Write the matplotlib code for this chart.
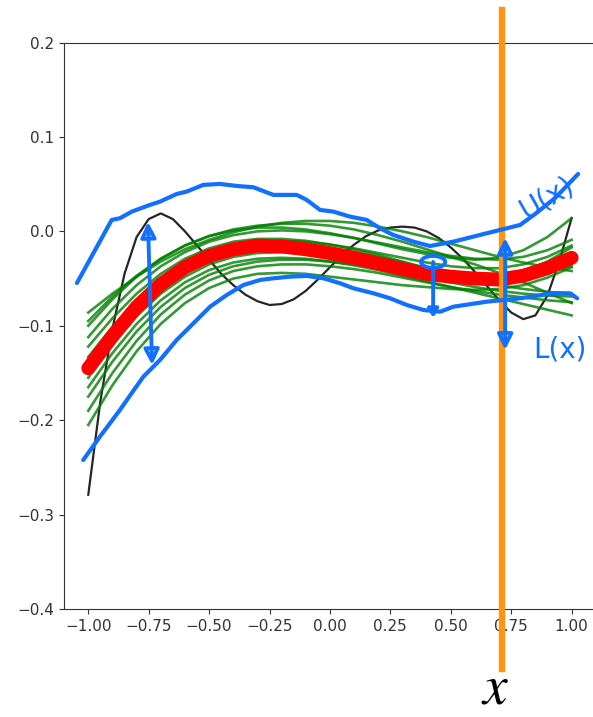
import numpy as np
import matplotlib
matplotlib.use("Agg")
import matplotlib.pyplot as plt
from matplotlib.patches import Ellipse

# grid for the sampled curves
X_GRID = [-1.0, -0.9, -0.8, -0.7, -0.6, -0.5, -0.4, -0.3, -0.2, -0.1, 0.0,
          0.1, 0.2, 0.3, 0.4, 0.5, 0.6, 0.7, 0.8, 0.9, 1.0]

# true function (black)
X_TRUE = [-1.0, -0.95, -0.9, -0.85, -0.8, -0.75, -0.7, -0.65, -0.6, -0.55, -0.5,
          -0.45, -0.4, -0.35, -0.3, -0.25, -0.2, -0.15, -0.1, -0.05, 0.0,
          0.05, 0.1, 0.15, 0.2, 0.25, 0.3, 0.35, 0.4, 0.45, 0.5,
          0.55, 0.6, 0.65, 0.7, 0.75, 0.8, 0.85, 0.9, 0.95, 1.0]
Y_TRUE = [-0.279, -0.180, -0.103, -0.045, -0.006, 0.013, 0.019, 0.013, 0.000, -0.015, -0.030,
          -0.045, -0.057, -0.067, -0.074, -0.078, -0.077, -0.072, -0.063, -0.051, -0.038,
          -0.025, -0.014, -0.005, 0.001, 0.004, 0.005, 0.004, 0.000, -0.007, -0.017,
          -0.029, -0.043, -0.058, -0.073, -0.086, -0.093, -0.089, -0.068, -0.031, 0.014]

# sampled fits (green)
G1 = [-0.086, -0.066, -0.048, -0.032, -0.019, -0.009, -0.001, 0.005, 0.009, 0.011, 0.011,
      0.009, 0.005, 0.000, -0.006, -0.013, -0.020, -0.027, -0.033, -0.038, -0.042]
G2 = [-0.095, -0.069, -0.047, -0.029, -0.015, -0.005, 0.002, 0.006, 0.008, 0.008, 0.006,
      0.002, -0.004, -0.011, -0.019, -0.027, -0.035, -0.044, -0.054, -0.065, -0.076]
G3 = [-0.100, -0.072, -0.048, -0.029, -0.015, -0.005, 0.001, 0.004, 0.004, 0.002, -0.002,
      -0.007, -0.013, -0.019, -0.024, -0.028, -0.030, -0.028, -0.020, -0.006, 0.014]
G4 = [-0.112, -0.082, -0.057, -0.037, -0.022, -0.011, -0.004, 0.000, 0.001, 0.000, -0.003,
      -0.007, -0.012, -0.017, -0.022, -0.026, -0.029, -0.030, -0.027, -0.020, -0.009]
G5 = [-0.122, -0.092, -0.066, -0.045, -0.029, -0.018, -0.011, -0.008, -0.008, -0.010, -0.014,
      -0.019, -0.025, -0.032, -0.039, -0.046, -0.052, -0.057, -0.061, -0.064, -0.066]
G6 = [-0.133, -0.101, -0.074, -0.052, -0.035, -0.023, -0.015, -0.011, -0.010, -0.011, -0.014,
      -0.018, -0.023, -0.028, -0.033, -0.037, -0.039, -0.039, -0.035, -0.027, -0.015]
G7 = [-0.145, -0.111, -0.082, -0.059, -0.042, -0.030, -0.022, -0.018, -0.017, -0.019, -0.023,
      -0.028, -0.034, -0.041, -0.048, -0.054, -0.059, -0.063, -0.066, -0.068, -0.069]
G8 = [-0.155, -0.120, -0.090, -0.066, -0.048, -0.035, -0.027, -0.023, -0.022, -0.023, -0.026,
      -0.030, -0.035, -0.040, -0.044, -0.047, -0.049, -0.049, -0.047, -0.043, -0.037]
G9 = [-0.165, -0.129, -0.098, -0.073, -0.054, -0.041, -0.033, -0.029, -0.028, -0.029, -0.032,
      -0.036, -0.041, -0.047, -0.053, -0.059, -0.065, -0.071, -0.077, -0.083, -0.089]
G10 = [-0.175, -0.138, -0.106, -0.080, -0.060, -0.046, -0.037, -0.032, -0.030, -0.030, -0.032,
       -0.035, -0.039, -0.043, -0.046, -0.048, -0.049, -0.048, -0.045, -0.040, -0.033]
G11 = [-0.190, -0.150, -0.116, -0.088, -0.067, -0.052, -0.042, -0.037, -0.035, -0.035, -0.037,
       -0.040, -0.044, -0.049, -0.054, -0.059, -0.063, -0.067, -0.070, -0.073, -0.075]
G12 = [-0.205, -0.163, -0.127, -0.098, -0.076, -0.060, -0.050, -0.045, -0.044, -0.045, -0.048,
       -0.051, -0.054, -0.057, -0.059, -0.061, -0.062, -0.061, -0.057, -0.049, -0.038]
G13 = [-0.140, -0.109, -0.082, -0.060, -0.043, -0.031, -0.023, -0.018, -0.016, -0.016, -0.018,
       -0.022, -0.027, -0.033, -0.039, -0.044, -0.047, -0.047, -0.042, -0.032, -0.017]
GREEN_CURVES = [G1, G2, G3, G4, G5, G6, G7, G8, G9, G10, G11, G12, G13]

# mean (red)
Y_MEAN = [-0.145, -0.111, -0.080, -0.056, -0.038, -0.026, -0.019, -0.015, -0.016, -0.019, -0.023,
          -0.028, -0.034, -0.040, -0.045, -0.048, -0.050, -0.051, -0.047, -0.039, -0.028]

# hand-drawn upper / lower envelopes (blue)
U_X = [-1.047, -0.979, -0.903, -0.869, -0.820, -0.745, -0.703, -0.634, -0.593, -0.524, -0.455,
       -0.386, -0.317, -0.234, -0.137, -0.096, -0.041, 0.014, 0.083, 0.152, 0.207, 0.262,
       0.345, 0.414, 0.511, 0.649, 0.704, 0.787, 0.849, 0.932, 1.027]
U_Y = [-0.0547, -0.0232, 0.0121, 0.0139, 0.0209, 0.0280, 0.0315, 0.0396, 0.0421, 0.0492, 0.0502,
       0.0481, 0.0467, 0.0386, 0.0386, 0.0333, 0.0227, 0.0209, 0.0156, 0.0121, 0.0033, -0.0038,
       -0.0109, -0.0155, -0.0109, -0.0020, 0.0015, 0.0068, 0.0184, 0.0354, 0.0608]
L_X = [-1.021, -0.952, -0.869, -0.820, -0.772, -0.703, -0.634, -0.565, -0.496, -0.427, -0.358,
       -0.289, -0.234, -0.165, -0.096, -0.027, 0.042, 0.097, 0.180, 0.249, 0.318, 0.387,
       0.456, 0.511, 0.649, 0.787, 0.925, 0.994, 1.023]
L_Y = [-0.2422, -0.2175, -0.1892, -0.1712, -0.1539, -0.1362, -0.1150, -0.0974, -0.0798, -0.0674,
       -0.0568, -0.0515, -0.0497, -0.0480, -0.0472, -0.0497, -0.0550, -0.0603, -0.0656, -0.0709,
       -0.0780, -0.0833, -0.0851, -0.0798, -0.0745, -0.0709, -0.0656, -0.0656, -0.0709]

X_CUT = 0.711
BLUE = "#1270ff"
ORANGE = "#ff9410"

fig = plt.figure(figsize=(5.93, 7.17), dpi=100)
ax = fig.add_axes([0.1081, 0.1506, 0.8966, 0.7901])

ax.plot(X_TRUE, Y_TRUE, color="black", lw=1.6, alpha=0.85, zorder=2)
for g in GREEN_CURVES:
    ax.plot(X_GRID, g, color="green", lw=1.9, alpha=0.8, zorder=2)
ax.plot(X_GRID, Y_MEAN, color="red", lw=10, solid_capstyle="round", zorder=3)

ax.set_xlim(-1.1, 1.1)
ax.set_ylim(-0.4, 0.2)
ax.set_xticks([-1.0, -0.75, -0.5, -0.25, 0.0, 0.25, 0.5, 0.75, 1.0])
ax.set_xticklabels(["−1.00", "−0.75", "−0.50", "−0.25", "0.00", "0.25", "0.50", "0.75", "1.00"])
ax.set_yticks([-0.4, -0.3, -0.2, -0.1, 0.0, 0.1, 0.2])
ax.tick_params(labelsize=11, colors="#333333")
for s in ax.spines.values():
    s.set_color("#333333")

# orange cut line, running past the axes
ax.plot([X_CUT, X_CUT], [0.2345, -0.4634], color=ORANGE, lw=4.6,
        clip_on=False, zorder=4)
fig.text(495 / 593, 1 - 703 / 717, r"$x$", fontsize=40, math_fontfamily="stix",
         ha="center", va="baseline")

# blue annotations
ax.plot(U_X, U_Y, color=BLUE, lw=3.0, solid_capstyle="round", clip_on=False, zorder=5)
ax.plot(L_X, L_Y, color=BLUE, lw=3.0, solid_capstyle="round", clip_on=False, zorder=5)

arrow = dict(arrowstyle="<|-|>,head_length=0.9,head_width=0.45", edgecolor=BLUE,
             facecolor="none", lw=2.8, shrinkA=0, shrinkB=0)
ax.annotate("", xy=(-0.753, 0.010), xytext=(-0.736, -0.1415), arrowprops=arrow, zorder=5)
ax.annotate("", xy=(0.725, -0.007), xytext=(0.725, -0.1255), arrowprops=arrow, zorder=5)
ax.annotate("", xy=(0.427, -0.0917), xytext=(0.427, -0.0324),
            arrowprops=dict(arrowstyle="-|>,head_length=0.5,head_width=0.3", edgecolor=BLUE,
                            facecolor="none", lw=2.8, shrinkA=0, shrinkB=0), zorder=5)
ax.add_patch(Ellipse((0.427, -0.0324), 0.1, 0.0127, fill=False, edgecolor=BLUE,
                     lw=2.8, zorder=5))

ax.text(0.898, 0.0354, "U(x)", color=BLUE, fontsize=20, rotation=30,
        ha="center", va="center", clip_on=False, zorder=5)
ax.text(0.952, -0.1255, "L(x)", color=BLUE, fontsize=20,
        ha="center", va="center", clip_on=False, zorder=5)

fig.savefig("out.png", dpi=100)
